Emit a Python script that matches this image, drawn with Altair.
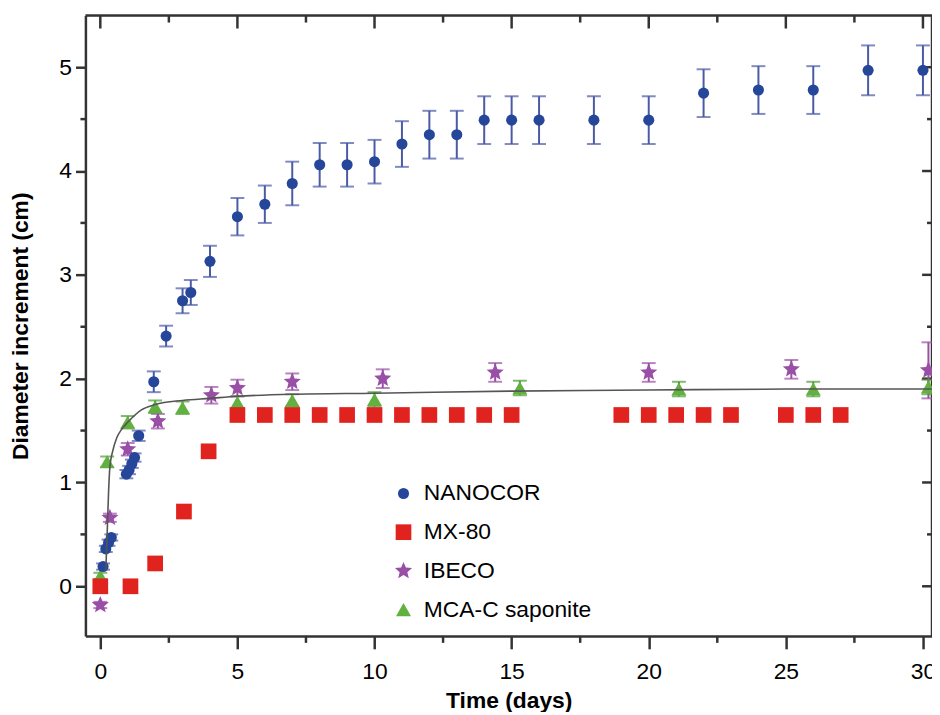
import altair as alt
import pandas as pd

series_names = ["NANOCOR", "MX-80", "IBECO", "MCA-C saponite"]
series_colors = ["#26469a", "#e1231f", "#9a4fa6", "#62b03f"]
bar_colors = ["#4a5aa6", "#e1231f", "#9a4fa6", "#4c9a34"]

# NANOCOR (mean, error)
nan_x = [0.1, 0.2, 0.3, 0.4, 0.95, 1.05, 1.15, 1.25, 1.4, 1.95, 2.4, 3.0, 3.3, 4.0,
         5.0, 6.0, 7.0, 8.0, 9.0, 10.0, 11.0, 12.0, 13.0, 14.0, 15.0, 16.0, 18.0,
         20.0, 22.0, 24.0, 26.0, 28.0, 30.0]
nan_y = [0.19, 0.36, 0.42, 0.47, 1.08, 1.12, 1.18, 1.24, 1.45, 1.97, 2.41, 2.75, 2.83, 3.13,
         3.56, 3.68, 3.88, 4.06, 4.06, 4.09, 4.26, 4.35, 4.35, 4.49, 4.49, 4.49, 4.49,
         4.49, 4.75, 4.78, 4.78, 4.97, 4.97]
nan_e = [0.03, 0.03, 0.03, 0.03, 0.04, 0.04, 0.04, 0.04, 0.05, 0.1, 0.1, 0.12, 0.12, 0.15,
         0.18, 0.18, 0.21, 0.21, 0.21, 0.21, 0.22, 0.23, 0.23, 0.23, 0.23, 0.23, 0.23,
         0.23, 0.23, 0.23, 0.23, 0.24, 0.24]

# MX-80
mx_x = [0.0, 1.1, 2.0, 3.05, 3.95, 5, 6, 7, 8, 9, 10, 11, 12, 13, 14, 15,
        19, 20, 21, 22, 23, 25, 26, 27]
mx_y = [0.0, 0.0, 0.22, 0.72, 1.3, 1.65, 1.65, 1.65, 1.65, 1.65, 1.65, 1.65, 1.65, 1.65, 1.65, 1.65,
        1.65, 1.65, 1.65, 1.65, 1.65, 1.65, 1.65, 1.65]

# IBECO
ib_x = [0.0, 0.35, 1.0, 2.1, 4.05, 5.0, 7.0, 10.3, 14.4, 20.0, 25.2, 30.2]
ib_y = [-0.18, 0.66, 1.32, 1.59, 1.84, 1.91, 1.97, 2.0, 2.06, 2.06, 2.09, 2.08]
ib_e = [0.03, 0.04, 0.06, 0.07, 0.08, 0.08, 0.08, 0.09, 0.09, 0.09, 0.09, 0.27]

# MCA-C saponite
mc_x = [0.0, 0.25, 1.0, 2.0, 3.0, 5.0, 7.0, 10.0, 15.3, 21.1, 26.0, 30.2]
mc_y = [0.1, 1.2, 1.58, 1.73, 1.72, 1.77, 1.79, 1.8, 1.91, 1.9, 1.9, 1.92]
mc_e = [0.03, 0.05, 0.06, 0.06, 0.06, 0.06, 0.06, 0.07, 0.07, 0.07, 0.07, 0.07]

# fitted curve
fit_x = [0.2, 0.25, 0.3, 0.35, 0.45, 0.6, 0.8, 1.0, 1.5, 2.0, 3.0, 4.0, 5.0, 7.0,
         10.0, 15.0, 20.0, 25.0, 30.33]
fit_y = [0.15, 0.5, 0.9, 1.15, 1.3, 1.43, 1.52, 1.58, 1.7, 1.75, 1.79, 1.81, 1.83, 1.85,
         1.86, 1.88, 1.89, 1.9, 1.9]

x_major = [0, 5, 10, 15, 20, 25, 30]
x_minor = [2.5, 7.5, 12.5, 17.5, 22.5, 27.5]
y_major = [0, 1, 2, 3, 4, 5]
y_minor = [0.5, 1.5, 2.5, 3.5, 4.5]

star = ("M0,-1L0.265,-0.364L0.951,-0.309L0.428,0.139L0.588,0.809L0,0.45"
        "L-0.588,0.809L-0.428,0.139L-0.951,-0.309L-0.265,-0.364Z")
shapes = ["circle", "square", star, "triangle-up"]
sizes = [125, 250, 330, 230]

rows = []
err_rows = []
for name, xs, ys, es in [("NANOCOR", nan_x, nan_y, nan_e),
                         ("MX-80", mx_x, mx_y, [0] * len(mx_x)),
                         ("IBECO", ib_x, ib_y, ib_e),
                         ("MCA-C saponite", mc_x, mc_y, mc_e)]:
    for x, y, e in zip(xs, ys, es):
        rows.append({"series": name, "t": x, "d": y})
        if e > 0:
            err_rows.append({"series": name, "t": x, "lo": y - e, "hi": y + e})
df = pd.DataFrame(rows)
err = pd.DataFrame(err_rows)
fit = pd.DataFrame({"t": fit_x, "d": fit_y})

FONT = "Liberation Sans"
AX = "#333333"
W, H = 853, 625
xscale = alt.Scale(domain=[-0.543, 30.33], nice=False, zero=False)
yscale = alt.Scale(domain=[-0.478, 5.497], nice=False, zero=False)
xaxis = alt.Axis(values=x_major, domain=True, domainColor=AX, domainWidth=2.5, grid=False,
                 tickSize=13, tickWidth=2.5,
                 tickColor=AX, labelFont=FONT, labelFontSize=23, labelColor="black",
                 labelPadding=12, titleFont=FONT, titleFontSize=23, titleFontWeight="bold",
                 titleColor="black", titlePadding=6, title="Time (days)", format="d")
yaxis = alt.Axis(values=y_major, domain=True, domainColor=AX, domainWidth=2.5, grid=False,
                 tickSize=10, tickWidth=2.5,
                 tickColor=AX, labelFont=FONT, labelFontSize=23, labelColor="black",
                 labelPadding=4, titleFont=FONT, titleFontSize=23, titleFontWeight="bold",
                 titleColor="black", titlePadding=27, title="Diameter increment (cm)",
                 format="d")

X = alt.X("t:Q", scale=xscale, axis=xaxis)
Y = alt.Y("d:Q", scale=yscale, axis=yaxis)

layers = []

# frame: top and right spines, minor ticks and mirrored ticks
tick_style = dict(color=AX, strokeWidth=2.5)
layers.append(alt.Chart(pd.DataFrame({"t": [0]})).mark_rule(**tick_style).encode(
    x=alt.value(0), x2=alt.value(W), y=alt.value(0)))
layers.append(alt.Chart(pd.DataFrame({"t": [0]})).mark_rule(**tick_style).encode(
    x=alt.value(W), y=alt.value(0), y2=alt.value(H)))
layers.append(alt.Chart(pd.DataFrame({"t": x_minor})).mark_rule(**tick_style).encode(
    x=X, y=alt.value(H), y2=alt.value(H + 7)))
layers.append(alt.Chart(pd.DataFrame({"t": x_major})).mark_rule(**tick_style).encode(
    x=X, y=alt.value(0), y2=alt.value(13)))
layers.append(alt.Chart(pd.DataFrame({"t": x_minor})).mark_rule(**tick_style).encode(
    x=X, y=alt.value(0), y2=alt.value(7)))
layers.append(alt.Chart(pd.DataFrame({"d": y_minor})).mark_rule(**tick_style).encode(
    y=Y, x=alt.value(-5), x2=alt.value(0)))
layers.append(alt.Chart(pd.DataFrame({"d": y_major})).mark_rule(**tick_style).encode(
    y=Y, x=alt.value(W - 10), x2=alt.value(W)))
layers.append(alt.Chart(pd.DataFrame({"d": y_minor})).mark_rule(**tick_style).encode(
    y=Y, x=alt.value(W - 5), x2=alt.value(W)))

# error bars
for name, bc in zip(series_names, bar_colors):
    sub = err[err.series == name]
    if len(sub) == 0:
        continue
    base = alt.Chart(sub)
    layers.append(base.mark_rule(color=bc, strokeWidth=2).encode(
        x=X, y=alt.Y("lo:Q", scale=yscale, axis=yaxis), y2="hi:Q"))
    layers.append(base.mark_tick(color=bc, orient="horizontal", size=14, thickness=2).encode(
        x=X, y=alt.Y("lo:Q", scale=yscale, axis=yaxis)))
    layers.append(base.mark_tick(color=bc, orient="horizontal", size=14, thickness=2).encode(
        x=X, y=alt.Y("hi:Q", scale=yscale, axis=yaxis)))

legend = alt.Legend(title=None, orient="none", legendX=309, legendY=470, padding=0,
                    labelFont=FONT, labelFontSize=23, labelColor="black", labelOffset=9,
                    rowPadding=15, labelLimit=400, symbolStrokeWidth=0)
pts = alt.Chart(df).mark_point(filled=True, opacity=1, strokeWidth=0).encode(
    x=X, y=Y,
    color=alt.Color("series:N", scale=alt.Scale(domain=series_names, range=series_colors),
                    legend=legend),
    shape=alt.Shape("series:N", scale=alt.Scale(domain=series_names, range=shapes),
                    legend=legend),
    size=alt.Size("series:N", scale=alt.Scale(type="ordinal", domain=series_names,
                                              range=sizes),
                  legend=legend),
    order=alt.Order("series:N"),
)
layers.append(pts)
layers.append(alt.Chart(fit).mark_line(color="#555555", strokeWidth=1.6,
                                       interpolate="monotone").encode(x=X, y=Y))

chart = alt.layer(*layers).properties(
    width=W, height=H,
    autosize=alt.AutoSizeParams(type="none"),
    padding={"left": 78, "top": 5, "right": 0, "bottom": 74},
).configure_view(strokeOpacity=0).configure(background="white")

chart.save("out.html", embed_options={"renderer": "svg", "actions": False})
